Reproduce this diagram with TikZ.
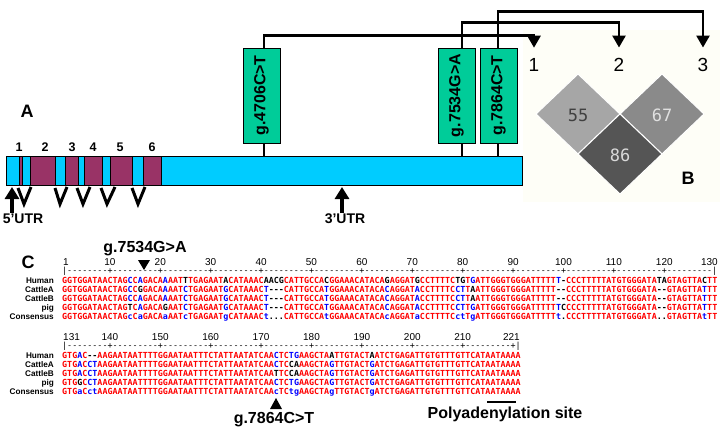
\documentclass[tikz,border=0pt]{standalone}
\usepackage{fontspec}
\setmainfont{Liberation Sans}
\setmonofont{DejaVu Sans Mono}
\usetikzlibrary{arrows.meta}

\definecolor{utrcyan}{HTML}{00CCFF}
\definecolor{exonred}{HTML}{993366}
\definecolor{snpgreen}{HTML}{00CC99}
\definecolor{seqred}{HTML}{FF0000}
\definecolor{seqblue}{HTML}{0000FF}
\definecolor{ldlight}{HTML}{A6A6A6}
\definecolor{ldmid}{HTML}{8A8A8A}
\definecolor{lddark}{HTML}{555555}
\definecolor{ldback}{HTML}{FEFEF7}

% residue colours (red is the default of a row)
\newcommand{\Bl}[1]{\textcolor{seqblue}{#1}}
\newcommand{\Bk}[1]{\textcolor{black}{#1}}

\tikzset{
  snp/.style={draw, line width=0.8bp, fill=snpgreen, minimum width=37bp, minimum height=95bp, inner sep=0pt,
    font=\bfseries\fontsize{16bp}{16bp}\selectfont},
  link/.style={line width=2.6bp, -{Triangle[width=13bp,length=12bp]}, shorten >=10bp},
  stem/.style={line width=2.6bp},
  intron/.style={line width=3bp},
  utrarrow/.style={line width=3.6bp, -{Triangle[width=14bp,length=12bp]}},
  biglab/.style={anchor=base, inner sep=0pt, font=\bfseries\fontsize{18bp}{18bp}\selectfont},
  midlab/.style={anchor=base, inner sep=0pt, font=\bfseries\fontsize{16bp}{16bp}\selectfont},
  exonnum/.style={anchor=base, inner sep=0pt, font=\bfseries\fontsize{12.5bp}{12.5bp}\selectfont},
  ldnum/.style={anchor=base, inner sep=0pt, font=\fontsize{19bp}{19bp}\selectfont},
  ldval/.style={anchor=base, inner sep=0pt, font=\ttfamily\fontsize{17bp}{17bp}\selectfont},
  seq/.style={anchor=base west, inner sep=0pt, text=seqred, font=\ttfamily\bfseries\fontsize{8.37bp}{9bp}\selectfont},
  ruler/.style={anchor=base west, inner sep=0pt, font=\ttfamily\fontsize{8.37bp}{9bp}\selectfont},
  rulnum/.style={anchor=base, inner sep=0pt, font=\fontsize{10bp}{10bp}\selectfont},
  taxon/.style={anchor=base east, inner sep=0pt, font=\bfseries\fontsize{8.2bp}{9bp}\selectfont}
}

\begin{document}
\begin{tikzpicture}[x=1bp, y=-1bp]
\useasboundingbox (0,0) rectangle (720,432);

% ---------- B background
\fill[ldback] (523,30) rectangle (720,202);

% ---------- A: gene structure
\node[biglab] (labA) at (27,117) {A};
\node[draw, line width=0.8bp, fill=utrcyan, minimum width=516bp, minimum height=29bp, inner sep=0pt] (gene) at (264,170.5) {};
\foreach \a/\b in {19/22,30/55,65/78,84/102,110/132,143/161}
  \draw[line width=0.8bp, fill=exonred] (\a,156) rectangle (\b,185);
\foreach \x/\n in {19/1,45/2,72/3,93/4,120/5,152/6}
  \node[exonnum] (ex\n) at (\x,151) {\n};
\foreach \a/\m/\b in {18/24/31,55/60/67,77/83/90,101/107/115,132/138/145}
  \draw[intron] (\a,188) -- (\m,204) -- (\b,187);

% UTR arrows
\coordinate (tip5) at (12,187);
\coordinate (tip3) at (342,187);
\node[anchor=base, inner sep=0pt, font=\bfseries\fontsize{14bp}{14bp}\selectfont] (utr5) at (23,223) {5'UTR};
\node[anchor=base, inner sep=0pt, font=\bfseries\fontsize{14bp}{14bp}\selectfont] (utr3) at (345,223) {3'UTR};
\draw[utrarrow] (utr5.north -| tip5) -- (tip5);
\draw[utrarrow] (utr3.north -| tip3) -- (tip3);

% SNP boxes
\node[snp] (snp1) at (261.5,95.5) {\rotatebox{90}{g.4706C>T}};
\node[snp] (snp2) at (456.5,95.5) {\rotatebox{90}{g.7534G>A}};
\node[snp] (snp3) at (498.5,95.5) {\rotatebox{90}{g.7864C>T}};
\foreach \s/\dx in {1/2.5,2/5.5,3/-0.5}
  \draw[stem] ([xshift=\dx bp]snp\s.south) -- ([xshift=\dx bp]snp\s.south |- gene.north);

% ---------- B: LD plot
\node[ldnum] (ld1) at (534,71) {1};
\node[ldnum] (ld2) at (619,71) {2};
\node[ldnum] (ld3) at (703,71) {3};
\draw[link] ([xshift=2.5bp]snp1.north) -- ++(0,-12) -| (ld1.north);
\draw[link] ([xshift=5.5bp]snp2.north) -- ++(0,-25) -| (ld2.north);
\draw[link] ([xshift=-0.5bp]snp3.north) -- ++(0,-36) -| (ld3.north);

\filldraw[fill=ldlight, draw=white, line width=1bp] (536,114) -- (578,74) -- (620,114) -- (578,154) -- cycle;
\filldraw[fill=ldmid, draw=white, line width=1bp] (620,114) -- (662,74) -- (704,114) -- (662,154) -- cycle;
\filldraw[fill=lddark, draw=white, line width=1bp] (578,154) -- (620,114) -- (662,154) -- (620,194) -- cycle;
\node[ldval, text=black!75] (r12) at (578,121) {55};
\node[ldval, text=white!88!black] (r23) at (662,121) {67};
\node[ldval, text=white!85!black] (r13) at (620,161) {86};
\node[biglab] (labB) at (688,184) {B};

% ---------- C: alignment
\node[biglab] (labC) at (28,268) {C};
\node[midlab] (mut2) at (145,252) {g.7534G>A};
\fill (138,260) -- (150,260) -- (144,270) -- cycle;

% block 1 (1-130)
\node[rulnum, anchor=base west] (p1) at (63,265) {1};
\foreach \p in {10,20,...,120}
  \node[rulnum] (p\p) at ({62+(\p-0.5)*5.04},265) {\p};
\node[rulnum, anchor=base east] (p130) at (718,265) {130};
\node[ruler] (rul1) at (62,273.5) {|--------+---------+---------+---------+---------+---------+---------+---------+---------+---------+---------+---------+---------|};

\node[seq] (hum1) at (62,283) {GGTGGATAACTAG\Bl{C}C\Bl{A}GACA\Bl{A}AAT\Bk{T}TGAGAAT\Bk{A}CATAAAC\Bk{AACG}CATTGCCA\Bk{C}GGAAACATACA\Bk{G}AGGAT\Bk{G}CCTTTTC\Bk{TG}T\Bl{G}ATTGGGTGGGATTTTT\Bl{T}\Bk{-}CCCTTTTTATGTGGGATA\Bk{TA}GTAGTTA\Bk{C}TT};
\node[seq] (catA1) at (62,292.2) {GGTGGATAACTAG\Bl{C}C\Bk{G}GACA\Bl{A}AAT\Bl{C}TGAGAAT\Bl{G}CATAAAC\Bl{T}\Bk{---}CATTGCCA\Bl{T}GGAAACATACA\Bl{C}AGGAT\Bl{A}CCTTTTC\Bl{CT}T\Bk{A}ATTGGGTGGGATTTTT\Bk{--}CCCTTTTTATGTGGGATA\Bk{--}GTAGTTA\Bl{T}TT};
\node[seq] (catB1) at (62,301.4) {GGTGGATAACTAG\Bl{C}C\Bl{A}GACA\Bl{A}AAT\Bl{C}TGAGAAT\Bl{G}CATAAAC\Bl{T}\Bk{---}CATTGCCA\Bl{T}GGAAACATACA\Bl{C}AGGAT\Bl{A}CCTTTTC\Bl{CT}T\Bk{A}ATTGGGTGGGATTTTT\Bk{--}CCCTTTTTATGTGGGATA\Bk{--}GTAGTTA\Bl{T}TT};
\node[seq] (pig1) at (62,310.6) {GGTGGATAACTAG\Bk{T}C\Bl{A}GACA\Bk{G}AAT\Bl{C}TGAGAAT\Bl{G}CATAAAC\Bl{T}\Bk{---}CATTGCCA\Bl{T}GGAAACATACA\Bl{C}AGGAT\Bl{A}CCTTTTC\Bl{CT}T\Bl{G}ATTGGGTGGGATTTTT\Bl{T}\Bk{C}CCCTTTTTATGTGGGATA\Bk{--}GTAGTTA\Bl{T}TT};
\node[seq] (cons1) at (62,319.8) {GGTGGATAACTAG\Bl{c}C\Bl{a}GACA\Bl{a}AAT\Bl{c}TGAGAAT\Bl{g}CATAAAC\Bl{t}\Bk{...}CATTGCCA\Bl{t}GGAAACATACA\Bl{c}AGGAT\Bl{a}CCTTTTC\Bl{ct}T\Bl{g}ATTGGGTGGGATTTTT\Bl{t}\Bk{.}CCCTTTTTATGTGGGATA\Bk{..}GTAGTTA\Bl{t}TT};

% block 2 (131-221)
\node[rulnum, anchor=base west] (p131) at (63,340) {131};
\foreach \p in {140,150,...,210}
  \node[rulnum] (p\p) at ({62+(\p-130.5)*5.04},340) {\p};
\node[rulnum, anchor=base east] (p221) at (520,340) {221};
\node[ruler] (rul2) at (62,348.5) {|--------+---------+---------+---------+---------+---------+---------+---------+---------+|};

\node[seq] (hum2) at (62,358) {GTG\Bl{A}C\Bk{--}AAGAATAATTTTGGAATAATTTCTATTAATATCAA\Bl{C}TC\Bl{TG}AAGCTA\Bk{A}TTGTACT\Bk{A}ATCTGAGATTGTGTTTGTTCATAATAAAA};
\node[seq] (catA2) at (62,367.2) {GTG\Bl{A}C\Bl{CT}AAGAATAATTTTGGAATAATTTCTATTAATATCAA\Bl{C}TC\Bk{CA}AAGCTA\Bl{G}TTGTACT\Bl{G}ATCTGAGATTGTGTTTGTTCATAATAAAA};
\node[seq] (catB2) at (62,376.4) {GTG\Bl{A}C\Bl{CT}AAGAATAATTTTGGAATAATTTCTATTAATATCAA\Bk{T}TC\Bk{CA}AAGCTA\Bl{G}TTGTACT\Bl{G}ATCTGAGATTGTGTTTGTTCATAATAAAA};
\node[seq] (pig2) at (62,385.6) {GTG\Bk{G}C\Bl{CT}AAGAATAATTTTGGAATAATTTCTATTAATATCAA\Bl{C}TC\Bl{TG}AAGCTA\Bl{G}TTGTACT\Bl{G}ATCTGAGATTGTGTTTGTTCATAATAAAA};
\node[seq] (cons2) at (62,394.8) {GTG\Bl{a}C\Bl{ct}AAGAATAATTTTGGAATAATTTCTATTAATATCAA\Bl{c}TC\Bl{tg}AAGCTA\Bl{g}TTGTACT\Bl{g}ATCTGAGATTGTGTTTGTTCATAATAAAA};

% species names for both blocks
\foreach \dy in {0,75}
  \foreach \i/\lab in {0/Human,1/CattleA,2/CattleB,3/pig,4/Consensus}
    \node[taxon] at (54,{283+\dy+\i*9.2}) {\lab};

\fill (276,398) -- (282,409) -- (270,409) -- cycle;
\node[midlab] (mut3) at (274,423) {g.7864C>T};
\draw[line width=2.6bp] (487,402) -- (516,402);
\node[midlab] (polyA) at (505,418) {Polyadenylation site};
\end{tikzpicture}
\end{document}
